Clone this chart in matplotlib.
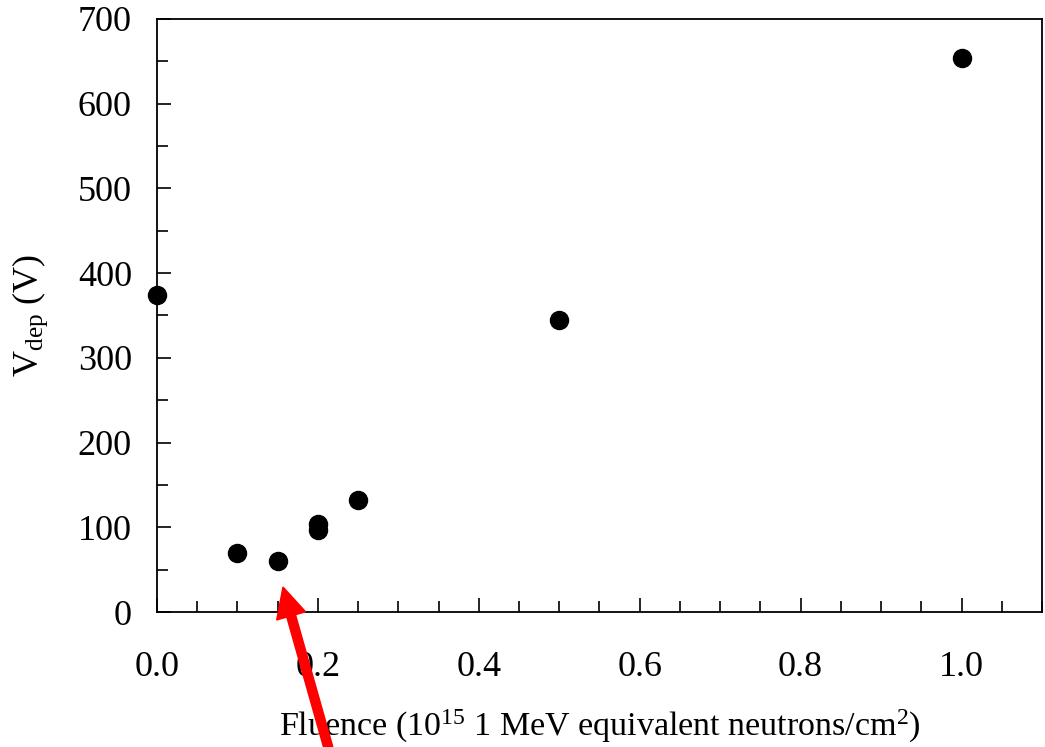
import matplotlib
matplotlib.use("Agg")
import matplotlib.pyplot as plt
from matplotlib.patches import FancyArrow
from matplotlib.ticker import MultipleLocator, FormatStrFormatter

# fluence (1e15 1 MeV neq/cm^2) and full depletion voltage (V)
fluence = [0.0, 0.1, 0.15, 0.2, 0.2, 0.25, 0.5, 1.0]
v_dep = [374, 70, 60, 104, 97, 132, 345, 654]

plt.rcParams['font.family'] = ['Liberation Serif', 'DejaVu Serif']
plt.rcParams['mathtext.fontset'] = 'custom'
plt.rcParams['mathtext.rm'] = 'Liberation Serif'
plt.rcParams['mathtext.it'] = 'Liberation Serif:italic'

fig = plt.figure(figsize=(10.45, 7.47), dpi=100)
ax = fig.add_axes([0.1502, 0.1807, 0.8469, 0.7939])

ax.plot(fluence, v_dep, 'o', color='black', ms=13, clip_on=False, zorder=5)

ax.set_xlim(0, 1.1)
ax.set_ylim(0, 700)
ax.xaxis.set_major_locator(MultipleLocator(0.2))
ax.xaxis.set_minor_locator(MultipleLocator(0.05))
ax.yaxis.set_major_locator(MultipleLocator(100))
ax.yaxis.set_minor_locator(MultipleLocator(50))
ax.xaxis.set_major_formatter(FormatStrFormatter('%.1f'))

for s in ax.spines.values():
    s.set_linewidth(1.3)
ax.tick_params(which='both', direction='in', top=False, right=False,
               width=1.2, labelsize=26)
ax.tick_params(which='major', length=10)
ax.tick_params(which='minor', length=8)
ax.tick_params(axis='y', which='major', pad=18)
ax.tick_params(axis='x', which='major', pad=28)

ax.set_xlabel('Fluence (10$^{15}$ 1 MeV equivalent neutrons/cm$^{2}$)',
              fontsize=24.5, labelpad=17)
ax.set_ylabel(r'V$_{\mathrm{dep}}$ (V)', fontsize=26, labelpad=20)

# red arrow pointing at the minimum
arrow = FancyArrow(3.31, -0.10, -0.48, 1.70, width=0.09, head_width=0.30,
                   head_length=0.30, length_includes_head=True,
                   color='red', transform=fig.dpi_scale_trans, zorder=10)
fig.add_artist(arrow)

fig.savefig('out.png', dpi=100)
